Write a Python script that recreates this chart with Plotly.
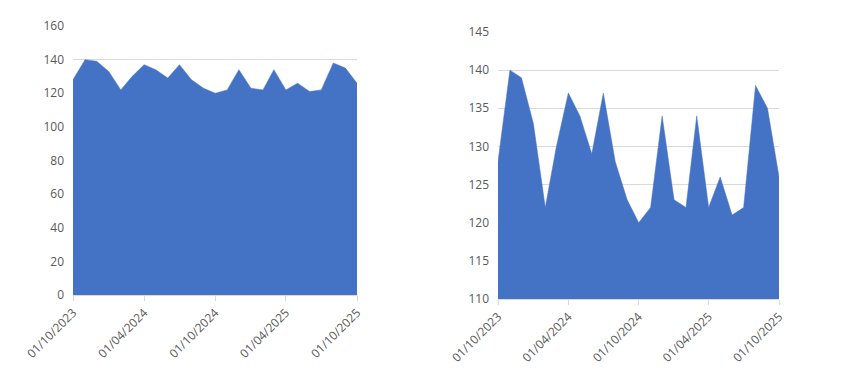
import plotly.graph_objects as go

dates = ["2023-10-01", "2023-11-01", "2023-12-01", "2024-01-01", "2024-02-01", "2024-03-01",
         "2024-04-01", "2024-05-01", "2024-06-01", "2024-07-01", "2024-08-01", "2024-09-01",
         "2024-10-01", "2024-11-01", "2024-12-01", "2025-01-01", "2025-02-01", "2025-03-01",
         "2025-04-01", "2025-05-01", "2025-06-01", "2025-07-01", "2025-08-01", "2025-09-01",
         "2025-10-01"]
values = [128, 140, 139, 133, 122, 130, 137, 134, 129, 137, 128, 123, 120, 122, 134, 123,
          122, 134, 122, 126, 121, 122, 138, 135, 126]

tick_vals = ["2023-10-01", "2024-04-01", "2024-10-01", "2025-04-01", "2025-10-01"]
tick_text = ["01/10/2023", "01/04/2024", "01/10/2024", "01/04/2025", "01/10/2025"]

color = "#4472C4"
font = dict(family="Open Sans, Segoe UI, sans-serif", size=12, color="#595959")

W, H = 857, 385
OFF = 8  # page body margin

def dx(a, b):
    return [(a - OFF) / W, (b - OFF) / W]

def dy(top, bottom):
    return [(H - (bottom - OFF)) / H, (H - (top - OFF)) / H]

fig = go.Figure()
fig.add_trace(go.Scatter(x=dates, y=values, mode="lines", fill="tozeroy",
                         line=dict(color=color, width=0.5), fillcolor=color,
                         xaxis="x", yaxis="y", showlegend=False, hoverinfo="x+y"))
fig.add_trace(go.Scatter(x=dates, y=values, mode="lines", fill="tozeroy",
                         line=dict(color=color, width=0.5), fillcolor=color,
                         xaxis="x2", yaxis="y2", showlegend=False, hoverinfo="x+y"))

xcommon = dict(type="date", range=["2023-10-01", "2025-10-01"], tickvals=tick_vals,
               ticktext=tick_text, tickangle=-45, showgrid=False, showline=True,
               linecolor="#d9d9d9", linewidth=1, ticks="outside", ticklen=5,
               tickcolor="#d9d9d9", tickfont=font, zeroline=False, automargin=False)

ycommon = dict(showgrid=True, gridcolor="#d9d9d9", gridwidth=1, zeroline=False,
               showline=False, tickfont=font, ticks="", ticklabelstandoff=8,
               automargin=False)

fig.update_layout(
    width=W, height=H,
    margin=dict(l=0, r=0, t=0, b=0),
    paper_bgcolor="white", plot_bgcolor="white",
    xaxis=dict(domain=dx(73, 357), anchor="y", **xcommon),
    xaxis2=dict(domain=dx(498, 779), anchor="y2", **xcommon),
    yaxis=dict(domain=dy(26, 295), anchor="x", range=[0, 160], dtick=20, **ycommon),
    yaxis2=dict(domain=dy(32, 299), anchor="x2", range=[110, 145], dtick=5, **ycommon),
)

fig.write_html("out.html")
